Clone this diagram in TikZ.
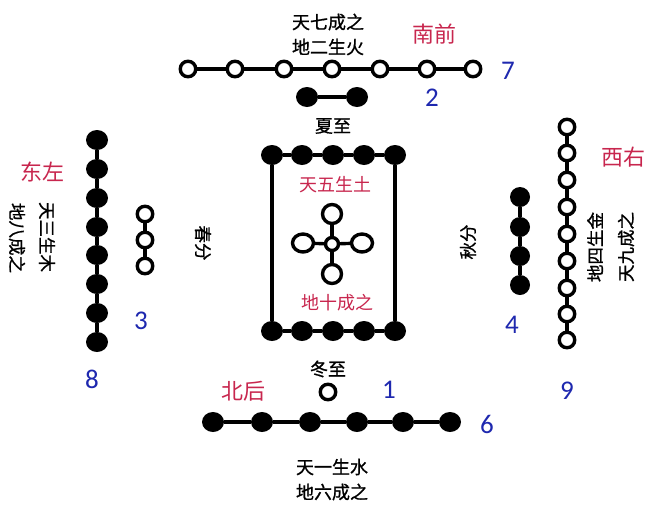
\documentclass[tikz,border=0pt]{standalone}
\usepackage{fontspec}
\setmainfont{Noto Sans CJK SC}
\newfontfamily\midfont[FakeBold=0.9]{Noto Sans CJK SC}
\newfontfamily\numfont{Carlito}
\usetikzlibrary{shapes.geometric}
\definecolor{redc}{RGB}{200,38,78}
\definecolor{bluec}{RGB}{30,40,175}
\begin{document}
\begin{tikzpicture}[x=1pt,y=-1pt,
  wb/.style={circle,draw=black,line width=3.4pt,fill=white,minimum size=15.5pt,inner sep=0pt},
  wbig/.style={ellipse,draw=black,line width=3.4pt,fill=white,minimum width=21pt,minimum height=18pt,inner sep=0pt},
  bb/.style={ellipse,fill=black,minimum width=22pt,minimum height=20pt,inner sep=0pt},
  link/.style={line width=3.4pt,black},
  redlab/.style={text=redc,font=\fontsize{22}{22}\selectfont},
  redin/.style={text=redc,font=\fontsize{18}{18}\selectfont},
  numlab/.style={text=bluec,font=\numfont\fontsize{27}{27}\selectfont},
  blk/.style={font=\midfont\fontsize{18}{18}\selectfont},
  blkv/.style={font=\midfont\fontsize{17.5}{17.5}\selectfont}]
\useasboundingbox (0,0) rectangle (647,509);
\fill[white] (0,0) rectangle (647,509);
% ---- South (top): 7 white
\foreach \i/\x in {1/188,2/235,3/284,4/332,5/380,6/427,7/473}
  \node[wb] (t\i) at (\x,69) {};
\foreach \i [evaluate=\i as \j using int(\i+1)] in {1,...,6}
  \draw[link] (t\i) -- (t\j);
\node[bb] (s1) at (307,97) {};
\node[bb] (s2) at (357,97) {};
\draw[link] (s1) -- (s2);
\node[blk] (tq) at (328,22) {天七成之};
\node[blk] (te) at (328,47) {地二生火};
\node[redlab] (south) at (434,34) {南前};
\node[numlab] (n7) at (508,71) {7};
\node[numlab] (n2) at (432,98) {2};
\node[blk] (xz) at (333,126) {夏至};
% ---- Centre rectangle
\foreach \i/\x in {1/272,2/302,3/333,4/364,5/395}{
  \node[bb] (r\i) at (\x,155) {};
  \node[bb] (q\i) at (\x,331) {};
}
\foreach \i [evaluate=\i as \j using int(\i+1)] in {1,...,4}{
  \draw[link] (r\i) -- (r\j);
  \draw[link] (q\i) -- (q\j);
}
\draw[link] (r1) -- (q1);
\draw[link] (r5) -- (q5);
\node[redin] (tw) at (335,185) {天五生土};
\node[redin] (ds) at (337,303) {地十成之};
\node[wb,minimum size=13pt] (c0) at (332,244) {};
\node[wbig,minimum width=19pt,minimum height=19pt] (c1) at (332,214) {};
\node[wbig,minimum width=19pt,minimum height=19pt] (c2) at (332,274) {};
\node[wbig] (c3) at (303,243) {};
\node[wbig] (c4) at (362,243) {};
\foreach \k in {1,...,4} \draw[link] (c0) -- (c\k);
% ---- North (bottom)
\node[blk] (dz) at (328,369) {冬至};
\node[wb] (w1) at (328,392) {};
\node[redlab] (north) at (243,391) {北后};
\node[numlab] (n1) at (389,390) {1};
\foreach \i/\x in {1/213,2/262,3/310,4/357,5/403,6/450}
  \node[bb] (b\i) at (\x,422) {};
\foreach \i [evaluate=\i as \j using int(\i+1)] in {1,...,5}
  \draw[link] (b\i) -- (b\j);
\node[numlab] (n6) at (487,424) {6};
\node[blk] (ty) at (332,467) {天一生水};
\node[blk] (dl) at (332,492) {地六成之};
% ---- East (left)
\foreach \i/\y in {1/140,2/169,3/198,4/227,5/255,6/284,7/313,8/342}
  \node[bb] (l\i) at (97,\y) {};
\foreach \i [evaluate=\i as \j using int(\i+1)] in {1,...,7}
  \draw[link] (l\i) -- (l\j);
\foreach \i/\y in {1/214,2/240,3/266}
  \node[wb] (e\i) at (145,\y) {};
\draw[link] (e1) -- (e2);
\draw[link] (e2) -- (e3);
\node[redlab] (east) at (42,172) {东左};
\node[blkv,rotate=-90] (ts) at (47,237) {天三生木};
\node[blkv,rotate=-90] (db) at (17,238) {地八成之};
\node[blkv,rotate=-90] (cf) at (203,243) {春分};
\node[numlab] (n3) at (141,321) {3};
\node[numlab] (n8) at (92,379) {8};
% ---- West (right)
\foreach \i/\y in {1/197,2/227,3/256,4/285}
  \node[bb,minimum width=20pt,minimum height=20pt] (g\i) at (520,\y) {};
\foreach \i [evaluate=\i as \j using int(\i+1)] in {1,...,3}
  \draw[link] (g\i) -- (g\j);
\foreach \i/\y in {1/127,2/153,3/180,4/207,5/234,6/261,7/288,8/314,9/340}
  \node[wb] (m\i) at (567,\y) {};
\foreach \i [evaluate=\i as \j using int(\i+1)] in {1,...,8}
  \draw[link] (m\i) -- (m\j);
\node[redlab] (west) at (623,157) {西右};
\node[blkv,rotate=90] (ds4) at (595,247) {地四生金};
\node[blkv,rotate=90] (tj) at (626,247) {天九成之};
\node[blkv,rotate=90] (qf) at (468,242) {秋分};
\node[numlab] (n4) at (512,325) {4};
\node[numlab] (n9) at (567,391) {9};
\end{tikzpicture}
\end{document}
